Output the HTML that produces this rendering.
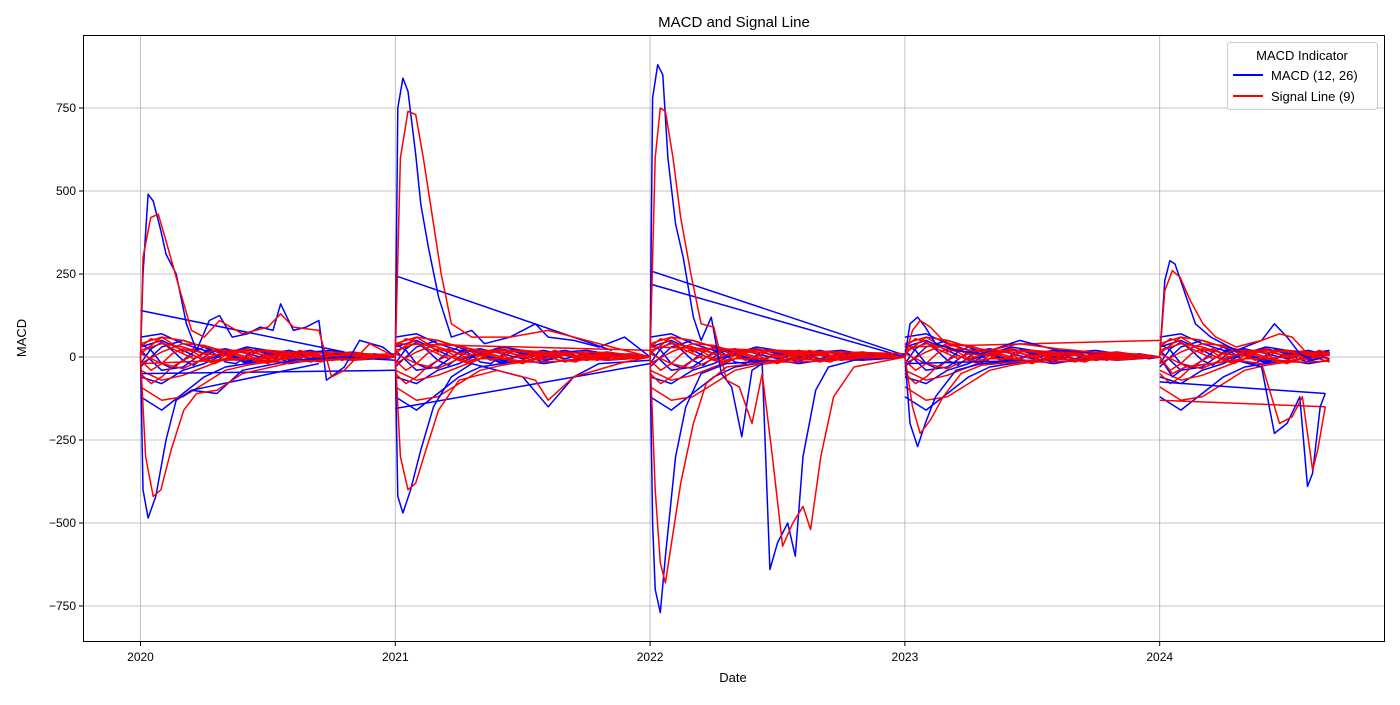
<!DOCTYPE html>
<html><head><meta charset="utf-8"><style>
body{margin:0;background:#fff;font-family:"Liberation Sans",sans-serif}
svg text{font-family:"Liberation Sans",sans-serif;fill:#000}
</style></head><body>
<svg id="chart" width="1400" height="700" xmlns="http://www.w3.org/2000/svg">
<rect width="1400" height="700" fill="#fff"/>
<text x="734" y="27" font-size="15" text-anchor="middle">MACD and Signal Line</text>
<g id="grid"></g>
<g id="marks"></g>
<rect x="83.5" y="35.5" width="1301" height="606" fill="none" stroke="#000" stroke-width="1"/>
<g id="ticks"></g>
<text x="733" y="682" font-size="13" text-anchor="middle">Date</text>
<text x="26" y="338" font-size="13" text-anchor="middle" transform="rotate(-90 26 338)">MACD</text>
<g>
<rect x="1227.5" y="42.5" width="150" height="67" rx="3" fill="#fff" fill-opacity="0.85" stroke="#ccc"/>
<text x="1302" y="60" font-size="13" text-anchor="middle">MACD Indicator</text>
<g><line x1="1233" y1="75" x2="1263" y2="75" stroke="#0000ff" stroke-width="2"/><text x="1271" y="80" font-size="13">MACD (12, 26)</text></g>
<g><line x1="1233" y1="96" x2="1263" y2="96" stroke="#ff0000" stroke-width="2"/><text x="1271" y="101" font-size="13">Signal Line (9)</text></g>
</g>
</svg>
<script>
const yTicks=[-750,-500,-250,0,250,500,750];
const xTicks=[2020,2021,2022,2023,2024];
const b20T=[0,0.01,0.03,0.05,0.08,0.1,0.14,0.18,0.22,0.27,0.31,0.36,0.42,0.47,0.52,0.55,0.6,0.65,0.7,0.73,0.8,0.86,0.95,1.0];
const b20V=[0,250,490,470,380,310,250,100,20,110,125,60,70,90,80,160,80,90,110,-70,-30,50,30,0];
const b20nT=[0,0.01,0.03,0.06,0.1,0.14,0.2,0.3,0.4,0.6,0.8,1.0];
const b20nV=[0,-400,-485,-420,-250,-130,-100,-110,-40,-10,0,-10];
const b21T=[0,0.01,0.03,0.05,0.08,0.1,0.13,0.17,0.22,0.3,0.35,0.45,0.55,0.6,0.7,0.8,0.9,1.0];
const b21V=[0,750,840,800,610,460,330,180,60,80,40,60,100,60,50,30,60,0];
const b21nT=[0,0.01,0.03,0.06,0.1,0.15,0.22,0.3,0.4,0.5,0.6,0.7,0.8,1.0];
const b21nV=[0,-420,-470,-400,-280,-150,-60,-20,-40,-60,-150,-60,-20,-10];
const b22T=[0,0.01,0.03,0.05,0.07,0.1,0.13,0.17,0.2,0.24,0.28,0.32,0.36,0.4,0.44,0.47,0.5,0.54,0.57,0.6,0.65,0.7,0.8,1.0];
const b22V=[0,780,880,850,600,400,300,120,50,120,-50,-90,-240,-40,-20,-640,-560,-500,-600,-300,-100,-30,-10,0];
const b22nT=[0,0.01,0.02,0.04,0.06,0.1,0.14,0.2,0.3,0.5,1.0];
const b22nV=[0,-500,-700,-770,-600,-300,-150,-50,-20,-10,0];
const b23T=[0,0.02,0.05,0.08,0.12,0.2,0.3,0.45,0.6,0.8,1.0];
const b23V=[0,100,120,90,40,20,10,50,20,10,0];
const b23nT=[0,0.02,0.05,0.08,0.12,0.2,0.3,0.5,1.0];
const b23nV=[0,-200,-270,-200,-120,-40,-20,-10,0];
const b24T=[0,0.02,0.04,0.06,0.1,0.14,0.2,0.3,0.4,0.45,0.5,0.55,0.6,0.65];
const b24V=[0,230,290,280,190,100,60,20,50,100,60,10,-10,0];
const b24nT=[0,0.05,0.1,0.2,0.3,0.4,0.45,0.5,0.55,0.58,0.6,0.63,0.65];
const b24nV=[0,-60,-30,-20,-10,-30,-230,-200,-120,-390,-350,-150,-110];
const r20T=[0,0.01,0.04,0.07,0.1,0.14,0.2,0.25,0.31,0.4,0.5,0.55,0.6,0.7,0.75,0.8,0.9,1.0];
const r20V=[0,300,420,430,350,240,80,60,110,70,90,130,90,80,-60,-40,40,0];
const r20nT=[0,0.02,0.05,0.08,0.12,0.17,0.22,0.3,0.4,0.6,1.0];
const r20nV=[0,-300,-420,-400,-280,-160,-110,-100,-50,-15,0];
const r21T=[0,0.02,0.05,0.08,0.11,0.14,0.18,0.22,0.3,0.45,0.6,0.8,1.0];
const r21V=[0,600,740,730,600,450,250,100,60,60,80,40,0];
const r21nT=[0,0.02,0.05,0.08,0.12,0.17,0.25,0.4,0.55,0.6,0.7,0.9,1.0];
const r21nV=[0,-300,-400,-380,-280,-160,-70,-40,-70,-130,-60,-15,0];
const r22T=[0,0.02,0.04,0.06,0.09,0.12,0.16,0.2,0.25,0.3,0.35,0.4,0.44,0.48,0.52,0.56,0.6,0.63,0.67,0.72,0.8,1.0];
const r22V=[0,600,750,740,600,420,250,100,90,-70,-90,-200,-50,-300,-570,-500,-450,-520,-300,-120,-30,0];
const r22nT=[0,0.02,0.04,0.06,0.08,0.12,0.17,0.22,0.3,0.5,1.0];
const r22nV=[0,-400,-620,-680,-580,-380,-200,-80,-30,-10,0];
const r23T=[0,0.03,0.06,0.1,0.15,0.22,0.3,0.45,0.6,0.8,1.0];
const r23V=[0,80,110,90,50,25,15,40,25,10,0];
const r23nT=[0,0.03,0.06,0.1,0.15,0.22,0.3,0.5,1.0];
const r23nV=[0,-150,-230,-190,-120,-50,-25,-10,0];
const r24T=[0,0.02,0.05,0.08,0.12,0.17,0.22,0.3,0.4,0.47,0.52,0.58,0.65];
const r24V=[0,200,260,240,170,100,60,30,50,70,60,10,0];
const r24nT=[0,0.05,0.1,0.2,0.3,0.4,0.47,0.52,0.56,0.6,0.62,0.65];
const r24nV=[0,-50,-30,-20,-10,-20,-200,-180,-120,-340,-280,-150];
const bandMonths=[0,1,2,3,4,5,6,7,8,9,10,11,12];
const bandB1=[60,70,40,20,15,25,10,5,15,20,10,5,0];
const bandB2=[-120,-160,-110,-60,-30,-20,-10,-20,-10,-5,-10,-5,0];
const bandB3=[30,50,20,-10,10,30,20,10,-5,10,15,5,0];
const bandB4=[-60,-80,-40,-20,10,-10,-15,0,10,-10,0,5,0];
const bandB5=[20,-40,-30,15,25,10,-5,10,20,5,-5,10,0];
const bandB6=[-30,30,50,30,5,-15,10,20,5,-10,10,-5,0];
const bandR1=[40,60,50,30,20,20,15,10,10,15,12,8,0];
const bandR2=[-90,-130,-120,-80,-40,-25,-15,-15,-12,-8,-8,-5,0];
const bandR3=[20,40,30,10,5,20,20,15,5,5,10,8,0];
const bandR4=[-40,-70,-55,-30,-5,-5,-12,-5,5,-5,-2,3,0];
const bandR5=[10,-20,-35,-5,15,15,5,5,15,10,0,5,0];
const bandR6=[-20,15,40,35,15,-5,0,15,10,-3,5,0,0];
// biweekly wiggly bands (25 points)
const fineSteps=[0,1,2,3,4,5,6,7,8,9,10,11,12,13,14,15,16,17,18,19,20,21,22,23,24];
const fineR1=[30,55,45,25,10,-5,10,20,5,-10,0,15,20,5,-5,10,15,0,-10,5,15,10,0,5,0];
const fineR2=[-50,-80,-60,-30,-10,5,-10,-20,-5,10,0,-15,-10,5,10,-5,-15,-5,10,5,-10,-5,5,0,0];
const fineR3=[10,35,60,40,15,25,10,-10,-5,15,25,10,0,-10,5,20,10,-5,0,10,5,-5,0,5,0];
const fineR4=[-10,-40,-20,10,25,15,-5,-15,5,20,10,-10,-20,-5,10,5,-10,-15,0,10,0,-5,5,0,0];
const fineB1=[40,20,-20,-35,-10,15,30,10,-15,-20,5,25,15,-5,-15,0,15,5,-10,0,10,5,-5,0,0];
const fineB2=[-20,25,45,20,-10,-25,0,20,15,-5,-20,-5,15,10,-10,-5,10,15,0,-10,0,10,0,-5,0];
const bandYears=[2020,2021,2022,2023,2024];
const connB=[[2020.0,140,2020.8,15],[2021.0,245,2021.85,20],[2021.0,-155,2022.0,-20],[2022.0,260,2023.0,5],[2022.0,220,2023.0,0],[2024.0,-75,2024.65,-110],[2020.0,-50,2021.0,-40],[2020.2,-100,2020.7,-20],[2023.0,-20,2024.0,0]];
const connR=[[2024.0,-130,2024.65,-150],[2023.0,30,2024.0,50],[2021.0,40,2022.0,20],[2022.0,30,2023.0,10],[2020.0,-20,2021.0,10]];

const X0=83,X1=1384,Y0=35,Y1=641;
const xs=t=>140.5+(t-2020)*254.8;
const ys=v=>357-v*0.332;
const NS='http://www.w3.org/2000/svg';
function mk(tag,attrs,parent){const e=document.createElementNS(NS,tag);for(const k in attrs)e.setAttribute(k,attrs[k]);parent.appendChild(e);return e;}
const grid=document.getElementById('grid'),ticks=document.getElementById('ticks'),marks=document.getElementById('marks');
yTicks.forEach(v=>{const y=ys(v);
const gl=mk('line',{x1:X0,x2:X1,y1:y,y2:y,stroke:'#b0b0b0','stroke-width':0.8},grid);


mk('line',{x1:X0-4,x2:X0,y1:y,y2:y,stroke:'#000'},ticks);
const t=mk('text',{x:X0-7,y:y+4,'font-size':12,'text-anchor':'end'},ticks);t.textContent=v===0?'0':(v<0?'\u2212'+(-v):v);

});
xTicks.forEach(v=>{const x=xs(v);
const gl=mk('line',{x1:x,x2:x,y1:Y0,y2:Y1,stroke:'#b0b0b0','stroke-width':0.8},grid);


mk('line',{x1:x,x2:x,y1:Y1+1,y2:Y1+5,stroke:'#000'},ticks);
const t=mk('text',{x:x,y:Y1+20,'font-size':12,'text-anchor':'middle'},ticks);t.textContent=v;

});
function line(T,V,base,color,name){const d=T.map((t,i)=>(i?'L':'M')+xs(base+t).toFixed(1)+','+ys(V[i]).toFixed(1)).join('');
const p=mk('path',{d:d,fill:'none',stroke:color,'stroke-width':1.5,'stroke-linejoin':'round'},marks);

}
const blueBands=[bandB1,bandB2,bandB3,bandB4,bandB5,bandB6],redBands=[bandR1,bandR2,bandR3,bandR4,bandR5,bandR6];
const fineBlue=[fineB1,fineB2],fineRed=[fineR1,fineR2,fineR3,fineR4];
bandYears.forEach(y=>{const n=y===2024?9:13;const T=bandMonths.slice(0,n).map(m=>m/12);
const fn=y===2024?17:25;const FT=fineSteps.slice(0,fn).map(s=>s/24);
blueBands.forEach(b=>line(T,b.slice(0,n),y,'#0000ff','macd-band-line'));
fineBlue.forEach(b=>line(FT,b.slice(0,fn),y,'#0000ff','macd-band-line'));
redBands.forEach(b=>line(T,b.slice(0,n),y,'#ff0000','signal-band-line'));
fineRed.forEach(b=>line(FT,b.slice(0,fn),y,'#ff0000','signal-band-line'));});
connB.forEach(c=>line([0,c[2]-c[0]],[c[1],c[3]],c[0],'#0000ff','macd-connector'));
connR.forEach(c=>line([0,c[2]-c[0]],[c[1],c[3]],c[0],'#ff0000','signal-connector'));
[[b20T,b20V,2020],[b20nT,b20nV,2020],[b21T,b21V,2021],[b21nT,b21nV,2021],[b22T,b22V,2022],[b22nT,b22nV,2022],[b23T,b23V,2023],[b23nT,b23nV,2023],[b24T,b24V,2024],[b24nT,b24nV,2024]].forEach(s=>line(s[0],s[1],s[2],'#0000ff','macd-line'));
[[r20T,r20V,2020],[r20nT,r20nV,2020],[r21T,r21V,2021],[r21nT,r21nV,2021],[r22T,r22V,2022],[r22nT,r22nV,2022],[r23T,r23V,2023],[r23nT,r23nV,2023],[r24T,r24V,2024],[r24nT,r24nV,2024]].forEach(s=>line(s[0],s[1],s[2],'#ff0000','signal-line'));
</script>
</body></html>
